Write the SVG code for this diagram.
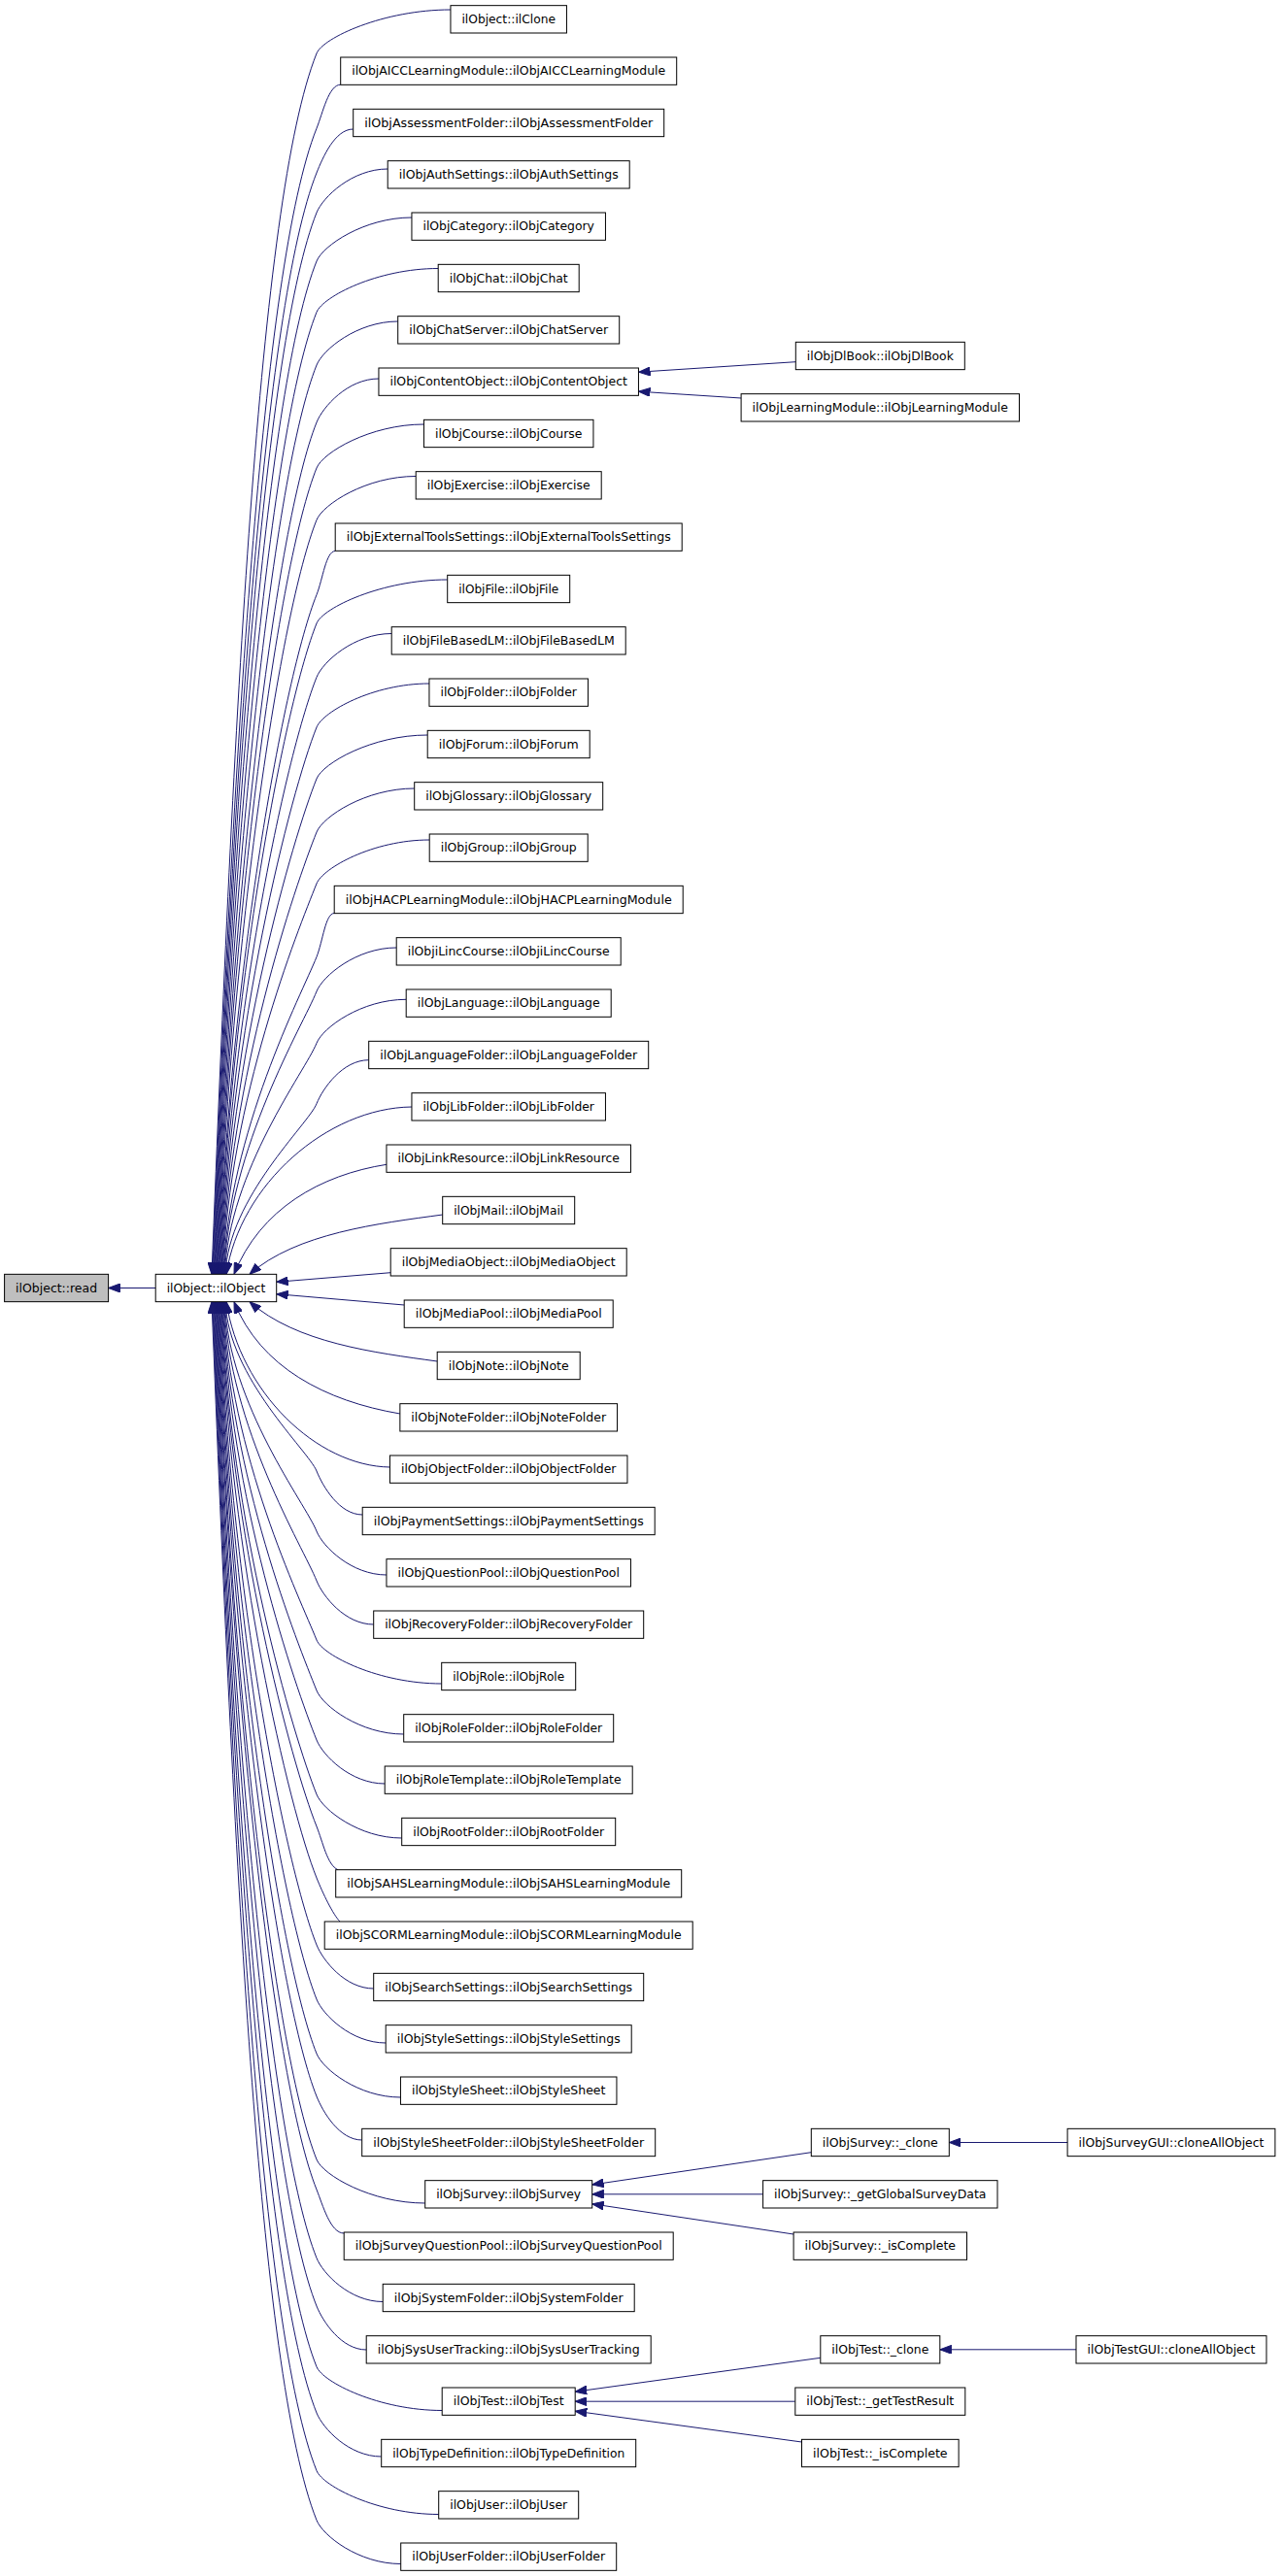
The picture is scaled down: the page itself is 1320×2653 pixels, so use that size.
<svg xmlns="http://www.w3.org/2000/svg" width="1320" height="2653" viewBox="0 0 1320 2653">
<style>
.n rect{fill:#fff;stroke:#000;stroke-width:1}
.n.g rect{fill:#bfbfbf}
.n text{font-family:"DejaVu Sans","Liberation Sans",sans-serif;font-size:12.5px;text-anchor:middle;fill:#000}
.e path{fill:none;stroke:#191970;stroke-width:1;marker-end:url(#a)}
</style>
<defs>
<marker id="a" viewBox="0 0 12 9" refX="12" refY="4.5" markerWidth="12" markerHeight="9" markerUnits="userSpaceOnUse" orient="auto"><path d="M0,0L12,4.5L0,9z" fill="#191970" stroke="#191970" stroke-width="1"/></marker>
</defs>
<rect width="1320" height="2653" fill="#fff"/>
<g id="edges" class="e">
<path d="M160.2,1326.5 L111.6,1326.5"/>
<path d="M464,10 C395,10 332.4,39 326,55 C265.6,205.9 240.6,746.5 218,1312.3"/>
<path d="M350.7,87.2 C338.4,87.2 332.4,116.2 326,132.2 C269.4,273.8 239.9,781.3 218.7,1312.3"/>
<path d="M363.7,133 C344.9,133 332.4,162 326,178 C271.6,314.1 239.8,801.9 219.4,1312.3"/>
<path d="M399.2,174 C362.6,174 332.4,203 326,219 C273.5,350.2 239.8,820.3 220.1,1312.3"/>
<path d="M424,224 C375,224 332.4,253 326,269 C275.9,394.2 239.6,842.8 220.8,1312.3"/>
<path d="M451.2,276.5 C388.6,276.5 332.4,305.5 326,321.5 C278.4,440.4 239.3,866.4 221.5,1312.3"/>
<path d="M409.7,331 C367.9,331 332.4,360 326,376 C281.1,488.4 239.1,891 222.2,1312.3"/>
<path d="M390,390 C358,390 332.4,419 326,435 C283.9,540.3 238.7,917.5 222.9,1312.3"/>
<path d="M436.5,437 C381.2,437 332.4,466 326,482 C286.1,581.6 238.5,938.7 223.6,1312.3"/>
<path d="M428.2,490.5 C377.1,490.5 332.4,519.5 326,535.5 C288.7,628.7 238.3,962.7 224.3,1312.3"/>
<path d="M345.2,567.5 C335.6,567.5 332.4,596.5 326,612.5 C292.4,696.5 237.6,997.4 225,1312.3"/>
<path d="M460.7,597 C393.4,597 332.4,626 326,642 C293.8,722.4 237.8,1010.7 225.7,1312.3"/>
<path d="M403.2,652.5 C364.6,652.5 332.4,681.5 326,697.5 C296.5,771.3 237.5,1035.6 226.4,1312.3"/>
<path d="M442,704 C384,704 332.4,733 326,749 C299,816.6 237.2,1058.8 227.1,1312.3"/>
<path d="M440.2,757 C383.1,757 332.4,786 326,802 C301.5,863.2 237,1082.7 227.8,1312.3"/>
<path d="M426.7,812 C376.4,812 332.4,841 326,857 C304.1,911.6 236.7,1107.4 228.5,1312.3"/>
<path d="M442.2,865 C384.1,865 332.4,894 326,910 C306.7,958.3 236.4,1131.3 229.2,1312.3"/>
<path d="M344.2,940.5 C335.1,940.5 332.4,969.5 326,985.5 C310.3,1024.7 235.8,1165.2 229.9,1312.3"/>
<path d="M408.2,976 C367.1,976 332.4,1005 326,1021 C312,1056 235.8,1181.2 230.6,1312.3"/>
<path d="M418.2,1029.3 C372.2,1029.3 332.4,1058.3 326,1074.3 C314.6,1102.9 235.6,1205.2 231.3,1312.3"/>
<path d="M379.7,1091.7 C352.9,1091.7 332.4,1120.7 326,1136.7 C317.6,1157.8 235.2,1233.3 232,1312.3"/>
<path d="M424,1140 C337,1141 247,1220 233,1312.3"/>
<path d="M398,1199.3 C330,1210 268,1245 241,1312.3"/>
<path d="M455.7,1251 C390,1260 305,1270 257,1312.3"/>
<path d="M402.2,1310.7 L284.7,1320.3"/>
<path d="M416.2,1344 L284.7,1332.7"/>
<path d="M450.2,1402 C385,1393 305,1383 257,1340.7"/>
<path d="M411.9,1456 C335,1443 268,1408 241,1340.7"/>
<path d="M401.5,1511 C326,1510 247,1433 233,1340.7"/>
<path d="M373.2,1560 C349.6,1560 332.4,1531 326,1515 C317.6,1494.1 235.1,1419.1 232,1340.7"/>
<path d="M398,1622 C362,1622 332.4,1593 326,1577 C314.7,1548.6 235.6,1447 231.3,1340.7"/>
<path d="M384.7,1673 C355.4,1673 332.4,1644 326,1628 C312.2,1593.5 235.8,1470 230.6,1340.7"/>
<path d="M454.7,1734 C390.4,1734 332.4,1705 326,1689 C309.3,1647.2 236.2,1497.4 229.9,1340.7"/>
<path d="M415.7,1786 C370.9,1786 332.4,1757 326,1741 C306.8,1693 236.4,1520.8 229.2,1340.7"/>
<path d="M396.2,1837 C361.1,1837 332.4,1808 326,1792 C304.3,1737.8 236.6,1543.8 228.5,1340.7"/>
<path d="M413.7,1893 C369.9,1893 332.4,1864 326,1848 C301.6,1787.1 236.9,1569 227.8,1340.7"/>
<path d="M348,1925.7 C337,1921 332.4,1897 326,1881 C300.1,1816.2 236.8,1583.8 227.1,1340.7"/>
<path d="M350,1979 C343,1972 332.4,1950 326,1934 C297.5,1862.8 237.1,1607.7 226.4,1340.7"/>
<path d="M384.7,2048 C355.4,2048 332.4,2019 326,2003 C294.2,1923.5 237.6,1638.7 225.7,1340.7"/>
<path d="M397.2,2104 C361.6,2104 332.4,2075 326,2059 C291.5,1972.8 237.9,1663.9 225,1340.7"/>
<path d="M412.5,2160 C369.2,2160 332.4,2131 326,2115 C288.8,2022.1 238.2,1689.1 224.3,1340.7"/>
<path d="M372.7,2204 C349.4,2204 332.4,2175 326,2159 C286.7,2060.8 238.3,1708.9 223.6,1340.7"/>
<path d="M437.7,2269 C381.9,2269 332.4,2240 326,2224 C283.6,2118 238.8,1738.2 222.9,1340.7"/>
<path d="M354.2,2300 C340.1,2300 332.4,2271 326,2255 C282.1,2145.3 238.7,1752.1 222.2,1340.7"/>
<path d="M394.2,2370.5 C360.1,2370.5 332.4,2341.5 326,2325.5 C278.7,2207.3 239.2,1783.9 221.5,1340.7"/>
<path d="M377.2,2420 C351.6,2420 332.4,2391 326,2375 C276.4,2250.9 239.4,1806.1 220.8,1340.7"/>
<path d="M455.2,2482.5 C390.6,2482.5 332.4,2453.5 326,2437.5 C273.4,2305.9 239.8,1834.3 220.1,1340.7"/>
<path d="M392.7,2530 C359.4,2530 332.4,2501 326,2485 C271.1,2347.7 240,1855.6 219.4,1340.7"/>
<path d="M451.7,2589.5 C388.9,2589.5 332.4,2560.5 326,2544.5 C268.2,2400 240.4,1882.4 218.7,1340.7"/>
<path d="M412.7,2640.5 C369.4,2640.5 332.4,2611.5 326,2595.5 C265.8,2444.9 240.6,1905.4 218,1340.7"/>
<path d="M819.3,372.7 L657.5,383.2"/>
<path d="M763.1,410 L657.5,403.2"/>
<path d="M835.3,2216.7 L609.7,2250"/>
<path d="M785.6,2259.8 L609.7,2259.8"/>
<path d="M817.1,2301 L609.7,2269.8"/>
<path d="M1099.1,2206.5 L977.3,2206.5"/>
<path d="M844.8,2428.3 L592.2,2463.2"/>
<path d="M818.8,2473.2 L592.2,2473.2"/>
<path d="M825.5,2515 L592.2,2483.2"/>
<path d="M1108,2419.8 L967.8,2419.8"/>
</g>
<g id="read" class="n g"><rect x="4.6" y="1312.33" width="107" height="28.33"/><text x="58.1" y="1330.5" textLength="84" lengthAdjust="spacingAndGlyphs">ilObject::read</text></g>
<g id="ilObject" class="n"><rect x="160.2" y="1312.33" width="124.5" height="28.33"/><text x="222.45" y="1330.5" textLength="101.5" lengthAdjust="spacingAndGlyphs">ilObject::ilObject</text></g>
<g id="n0" class="n"><rect x="463.95" y="5.67" width="119.5" height="28.33"/><text x="523.7" y="23.87" textLength="96.5" lengthAdjust="spacingAndGlyphs">ilObject::ilClone</text></g>
<g id="n1" class="n"><rect x="350.7" y="59" width="346" height="28.33"/><text x="523.7" y="77.2" textLength="323" lengthAdjust="spacingAndGlyphs">ilObjAICCLearningModule::ilObjAICCLearningModule</text></g>
<g id="n2" class="n"><rect x="363.7" y="112.33" width="320" height="28.33"/><text x="523.7" y="130.53" textLength="297" lengthAdjust="spacingAndGlyphs">ilObjAssessmentFolder::ilObjAssessmentFolder</text></g>
<g id="n3" class="n"><rect x="399.2" y="165.67" width="249" height="28.33"/><text x="523.7" y="183.87" textLength="226" lengthAdjust="spacingAndGlyphs">ilObjAuthSettings::ilObjAuthSettings</text></g>
<g id="n4" class="n"><rect x="423.95" y="219" width="199.5" height="28.33"/><text x="523.7" y="237.2" textLength="176.5" lengthAdjust="spacingAndGlyphs">ilObjCategory::ilObjCategory</text></g>
<g id="n5" class="n"><rect x="451.2" y="272.33" width="145" height="28.33"/><text x="523.7" y="290.53" textLength="122" lengthAdjust="spacingAndGlyphs">ilObjChat::ilObjChat</text></g>
<g id="n6" class="n"><rect x="409.7" y="325.67" width="228" height="28.33"/><text x="523.7" y="343.87" textLength="205" lengthAdjust="spacingAndGlyphs">ilObjChatServer::ilObjChatServer</text></g>
<g id="n7" class="n"><rect x="389.95" y="379" width="267.5" height="28.33"/><text x="523.7" y="397.2" textLength="244.5" lengthAdjust="spacingAndGlyphs">ilObjContentObject::ilObjContentObject</text></g>
<g id="n8" class="n"><rect x="436.45" y="432.33" width="174.5" height="28.33"/><text x="523.7" y="450.53" textLength="151.5" lengthAdjust="spacingAndGlyphs">ilObjCourse::ilObjCourse</text></g>
<g id="n9" class="n"><rect x="428.2" y="485.67" width="191" height="28.33"/><text x="523.7" y="503.87" textLength="168" lengthAdjust="spacingAndGlyphs">ilObjExercise::ilObjExercise</text></g>
<g id="n10" class="n"><rect x="345.2" y="539" width="357" height="28.33"/><text x="523.7" y="557.2" textLength="334" lengthAdjust="spacingAndGlyphs">ilObjExternalToolsSettings::ilObjExternalToolsSettings</text></g>
<g id="n11" class="n"><rect x="460.7" y="592.33" width="126" height="28.33"/><text x="523.7" y="610.53" textLength="103" lengthAdjust="spacingAndGlyphs">ilObjFile::ilObjFile</text></g>
<g id="n12" class="n"><rect x="403.2" y="645.67" width="241" height="28.33"/><text x="523.7" y="663.87" textLength="218" lengthAdjust="spacingAndGlyphs">ilObjFileBasedLM::ilObjFileBasedLM</text></g>
<g id="n13" class="n"><rect x="441.95" y="699" width="163.5" height="28.33"/><text x="523.7" y="717.2" textLength="140.5" lengthAdjust="spacingAndGlyphs">ilObjFolder::ilObjFolder</text></g>
<g id="n14" class="n"><rect x="440.2" y="752.33" width="167" height="28.33"/><text x="523.7" y="770.53" textLength="144" lengthAdjust="spacingAndGlyphs">ilObjForum::ilObjForum</text></g>
<g id="n15" class="n"><rect x="426.7" y="805.67" width="194" height="28.33"/><text x="523.7" y="823.87" textLength="171" lengthAdjust="spacingAndGlyphs">ilObjGlossary::ilObjGlossary</text></g>
<g id="n16" class="n"><rect x="442.2" y="859" width="163" height="28.33"/><text x="523.7" y="877.2" textLength="140" lengthAdjust="spacingAndGlyphs">ilObjGroup::ilObjGroup</text></g>
<g id="n17" class="n"><rect x="344.2" y="912.33" width="359" height="28.33"/><text x="523.7" y="930.53" textLength="336" lengthAdjust="spacingAndGlyphs">ilObjHACPLearningModule::ilObjHACPLearningModule</text></g>
<g id="n18" class="n"><rect x="408.2" y="965.67" width="231" height="28.33"/><text x="523.7" y="983.87" textLength="208" lengthAdjust="spacingAndGlyphs">ilObjiLincCourse::ilObjiLincCourse</text></g>
<g id="n19" class="n"><rect x="418.2" y="1019" width="211" height="28.33"/><text x="523.7" y="1037.2" textLength="188" lengthAdjust="spacingAndGlyphs">ilObjLanguage::ilObjLanguage</text></g>
<g id="n20" class="n"><rect x="379.7" y="1072.33" width="288" height="28.33"/><text x="523.7" y="1090.53" textLength="265" lengthAdjust="spacingAndGlyphs">ilObjLanguageFolder::ilObjLanguageFolder</text></g>
<g id="n21" class="n"><rect x="423.95" y="1125.67" width="199.5" height="28.33"/><text x="523.7" y="1143.87" textLength="176.5" lengthAdjust="spacingAndGlyphs">ilObjLibFolder::ilObjLibFolder</text></g>
<g id="n22" class="n"><rect x="397.95" y="1179" width="251.5" height="28.33"/><text x="523.7" y="1197.2" textLength="228.5" lengthAdjust="spacingAndGlyphs">ilObjLinkResource::ilObjLinkResource</text></g>
<g id="n23" class="n"><rect x="455.7" y="1232.33" width="136" height="28.33"/><text x="523.7" y="1250.53" textLength="113" lengthAdjust="spacingAndGlyphs">ilObjMail::ilObjMail</text></g>
<g id="n24" class="n"><rect x="402.2" y="1285.67" width="243" height="28.33"/><text x="523.7" y="1303.87" textLength="220" lengthAdjust="spacingAndGlyphs">ilObjMediaObject::ilObjMediaObject</text></g>
<g id="n25" class="n"><rect x="416.2" y="1339" width="215" height="28.33"/><text x="523.7" y="1357.2" textLength="192" lengthAdjust="spacingAndGlyphs">ilObjMediaPool::ilObjMediaPool</text></g>
<g id="n26" class="n"><rect x="450.2" y="1392.33" width="147" height="28.33"/><text x="523.7" y="1410.53" textLength="124" lengthAdjust="spacingAndGlyphs">ilObjNote::ilObjNote</text></g>
<g id="n27" class="n"><rect x="411.85" y="1445.67" width="223.7" height="28.33"/><text x="523.7" y="1463.87" textLength="200.7" lengthAdjust="spacingAndGlyphs">ilObjNoteFolder::ilObjNoteFolder</text></g>
<g id="n28" class="n"><rect x="401.45" y="1499" width="244.5" height="28.33"/><text x="523.7" y="1517.2" textLength="221.5" lengthAdjust="spacingAndGlyphs">ilObjObjectFolder::ilObjObjectFolder</text></g>
<g id="n29" class="n"><rect x="373.2" y="1552.33" width="301" height="28.33"/><text x="523.7" y="1570.53" textLength="278" lengthAdjust="spacingAndGlyphs">ilObjPaymentSettings::ilObjPaymentSettings</text></g>
<g id="n30" class="n"><rect x="397.95" y="1605.67" width="251.5" height="28.33"/><text x="523.7" y="1623.87" textLength="228.5" lengthAdjust="spacingAndGlyphs">ilObjQuestionPool::ilObjQuestionPool</text></g>
<g id="n31" class="n"><rect x="384.7" y="1659" width="278" height="28.33"/><text x="523.7" y="1677.2" textLength="255" lengthAdjust="spacingAndGlyphs">ilObjRecoveryFolder::ilObjRecoveryFolder</text></g>
<g id="n32" class="n"><rect x="454.7" y="1712.33" width="138" height="28.33"/><text x="523.7" y="1730.53" textLength="115" lengthAdjust="spacingAndGlyphs">ilObjRole::ilObjRole</text></g>
<g id="n33" class="n"><rect x="415.7" y="1765.67" width="216" height="28.33"/><text x="523.7" y="1783.87" textLength="193" lengthAdjust="spacingAndGlyphs">ilObjRoleFolder::ilObjRoleFolder</text></g>
<g id="n34" class="n"><rect x="396.2" y="1819" width="255" height="28.33"/><text x="523.7" y="1837.2" textLength="232" lengthAdjust="spacingAndGlyphs">ilObjRoleTemplate::ilObjRoleTemplate</text></g>
<g id="n35" class="n"><rect x="413.7" y="1872.33" width="220" height="28.33"/><text x="523.7" y="1890.53" textLength="197" lengthAdjust="spacingAndGlyphs">ilObjRootFolder::ilObjRootFolder</text></g>
<g id="n36" class="n"><rect x="345.7" y="1925.67" width="356" height="28.33"/><text x="523.7" y="1943.87" textLength="333" lengthAdjust="spacingAndGlyphs">ilObjSAHSLearningModule::ilObjSAHSLearningModule</text></g>
<g id="n37" class="n"><rect x="334.2" y="1979" width="379" height="28.33"/><text x="523.7" y="1997.2" textLength="356" lengthAdjust="spacingAndGlyphs">ilObjSCORMLearningModule::ilObjSCORMLearningModule</text></g>
<g id="n38" class="n"><rect x="384.7" y="2032.33" width="278" height="28.33"/><text x="523.7" y="2050.53" textLength="255" lengthAdjust="spacingAndGlyphs">ilObjSearchSettings::ilObjSearchSettings</text></g>
<g id="n39" class="n"><rect x="397.2" y="2085.67" width="253" height="28.33"/><text x="523.7" y="2103.87" textLength="230" lengthAdjust="spacingAndGlyphs">ilObjStyleSettings::ilObjStyleSettings</text></g>
<g id="n40" class="n"><rect x="412.45" y="2139" width="222.5" height="28.33"/><text x="523.7" y="2157.2" textLength="199.5" lengthAdjust="spacingAndGlyphs">ilObjStyleSheet::ilObjStyleSheet</text></g>
<g id="n41" class="n"><rect x="372.7" y="2192.33" width="302" height="28.33"/><text x="523.7" y="2210.53" textLength="279" lengthAdjust="spacingAndGlyphs">ilObjStyleSheetFolder::ilObjStyleSheetFolder</text></g>
<g id="n42" class="n"><rect x="437.7" y="2245.67" width="172" height="28.33"/><text x="523.7" y="2263.87" textLength="149" lengthAdjust="spacingAndGlyphs">ilObjSurvey::ilObjSurvey</text></g>
<g id="n43" class="n"><rect x="354.2" y="2299" width="339" height="28.33"/><text x="523.7" y="2317.2" textLength="316" lengthAdjust="spacingAndGlyphs">ilObjSurveyQuestionPool::ilObjSurveyQuestionPool</text></g>
<g id="n44" class="n"><rect x="394.2" y="2352.33" width="259" height="28.33"/><text x="523.7" y="2370.53" textLength="236" lengthAdjust="spacingAndGlyphs">ilObjSystemFolder::ilObjSystemFolder</text></g>
<g id="n45" class="n"><rect x="377.2" y="2405.67" width="293" height="28.33"/><text x="523.7" y="2423.87" textLength="270" lengthAdjust="spacingAndGlyphs">ilObjSysUserTracking::ilObjSysUserTracking</text></g>
<g id="n46" class="n"><rect x="455.2" y="2459" width="137" height="28.33"/><text x="523.7" y="2477.2" textLength="114" lengthAdjust="spacingAndGlyphs">ilObjTest::ilObjTest</text></g>
<g id="n47" class="n"><rect x="392.7" y="2512.33" width="262" height="28.33"/><text x="523.7" y="2530.53" textLength="239" lengthAdjust="spacingAndGlyphs">ilObjTypeDefinition::ilObjTypeDefinition</text></g>
<g id="n48" class="n"><rect x="451.7" y="2565.67" width="144" height="28.33"/><text x="523.7" y="2583.87" textLength="121" lengthAdjust="spacingAndGlyphs">ilObjUser::ilObjUser</text></g>
<g id="n49" class="n"><rect x="412.7" y="2619" width="222" height="28.33"/><text x="523.7" y="2637.2" textLength="199" lengthAdjust="spacingAndGlyphs">ilObjUserFolder::ilObjUserFolder</text></g>
<g id="r1" class="n"><rect x="819.3" y="352.33" width="174" height="28.33"/><text x="906.3" y="370.53" textLength="151" lengthAdjust="spacingAndGlyphs">ilObjDlBook::ilObjDlBook</text></g>
<g id="r2" class="n"><rect x="763.1" y="405.67" width="286.4" height="28.33"/><text x="906.3" y="423.87" textLength="263.4" lengthAdjust="spacingAndGlyphs">ilObjLearningModule::ilObjLearningModule</text></g>
<g id="r3" class="n"><rect x="835.3" y="2192.33" width="142" height="28.33"/><text x="906.3" y="2210.53" textLength="119" lengthAdjust="spacingAndGlyphs">ilObjSurvey::_clone</text></g>
<g id="r4" class="n"><rect x="785.6" y="2245.67" width="241.4" height="28.33"/><text x="906.3" y="2263.87" textLength="218.4" lengthAdjust="spacingAndGlyphs">ilObjSurvey::_getGlobalSurveyData</text></g>
<g id="r5" class="n"><rect x="817.1" y="2299" width="178.4" height="28.33"/><text x="906.3" y="2317.2" textLength="155.4" lengthAdjust="spacingAndGlyphs">ilObjSurvey::_isComplete</text></g>
<g id="r6" class="n"><rect x="1099.1" y="2192.33" width="213.8" height="28.33"/><text x="1206" y="2210.53" textLength="190.8" lengthAdjust="spacingAndGlyphs">ilObjSurveyGUI::cloneAllObject</text></g>
<g id="r7" class="n"><rect x="844.8" y="2405.67" width="123" height="28.33"/><text x="906.3" y="2423.87" textLength="100" lengthAdjust="spacingAndGlyphs">ilObjTest::_clone</text></g>
<g id="r8" class="n"><rect x="818.8" y="2459" width="175" height="28.33"/><text x="906.3" y="2477.2" textLength="152" lengthAdjust="spacingAndGlyphs">ilObjTest::_getTestResult</text></g>
<g id="r9" class="n"><rect x="825.5" y="2512.33" width="161.6" height="28.33"/><text x="906.3" y="2530.53" textLength="138.6" lengthAdjust="spacingAndGlyphs">ilObjTest::_isComplete</text></g>
<g id="r10" class="n"><rect x="1108" y="2405.67" width="196" height="28.33"/><text x="1206" y="2423.87" textLength="173" lengthAdjust="spacingAndGlyphs">ilObjTestGUI::cloneAllObject</text></g>
</svg>
